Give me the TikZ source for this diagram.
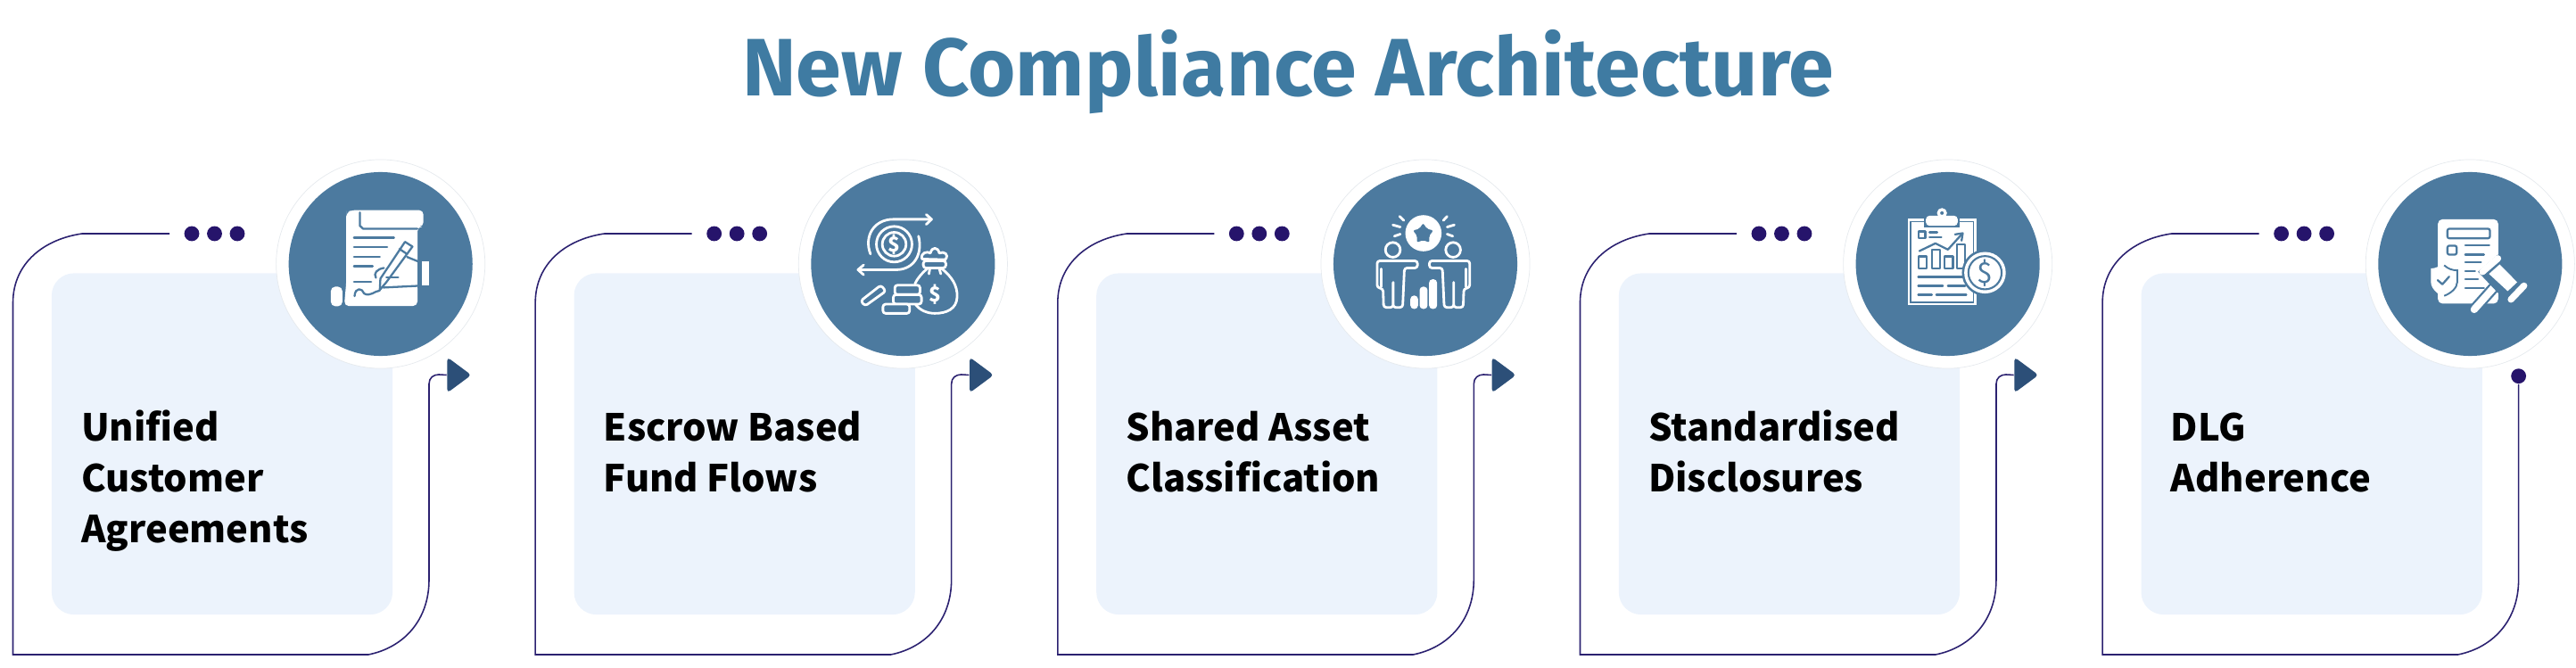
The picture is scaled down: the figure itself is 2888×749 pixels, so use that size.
\documentclass[tikz,border=0pt]{standalone}
\usepackage{fontspec}
\usepackage{tikz}
\usetikzlibrary{shapes,arrows,positioning}
\newfontfamily\titlefont[LetterSpace=0.3]{Fira Sans}
\newfontfamily\labelfont{Noto Sans CJK SC}
\definecolor{DiscBlue}{HTML}{4C7A9F}
\definecolor{PanelBlue}{HTML}{ECF3FC}
\definecolor{TrackNavy}{HTML}{2B2170}
\definecolor{DotNavy}{HTML}{26146B}
\definecolor{TipBlue}{HTML}{2C4F78}
\definecolor{TitleBlue}{HTML}{3F7BA2}
\definecolor{RingGray}{HTML}{E6EAEE}

\begin{document}
\begin{tikzpicture}[x=0.01cm, y=-0.01cm]
	\tikzstyle{Panel}	= [rectangle, fill=PanelBlue, rounded corners=0.25cm, minimum width=3.82cm, minimum height=3.825cm, inner sep=0pt]
	\tikzstyle{Ring}	= [circle, draw=RingGray, line width=0.2pt, fill=white, minimum size=2.34cm, inner sep=0pt]
	\tikzstyle{Disc}	= [circle, fill=DiscBlue, minimum size=2.06cm, inner sep=0pt]
	\tikzstyle{Dot}		= [circle, fill=DotNavy, minimum size=0.168cm, inner sep=0pt]
	\tikzstyle{Tip}		= [isosceles triangle, isosceles triangle stretches, fill=TipBlue, rounded corners=0.04cm, minimum width=0.40cm, minimum height=0.27cm, inner sep=0pt, anchor=west]
	\tikzstyle{Track}	= [TrackNavy, line width=0.45pt]
	\tikzstyle{Label}	= [anchor=base west, align=left, inner sep=0pt, font=\labelfont\bfseries\fontsize{11.85}{16.2}\selectfont]
	\tikzstyle{Sign}	= [inner sep=0pt, font=\labelfont\bfseries\fontsize{6.5}{6.5}\selectfont]
	\tikzstyle{IconW}	= [white, line width=0.8pt, line cap=round, line join=round]
	\tikzstyle{IconB}	= [DiscBlue, line width=0.65pt, line cap=round, line join=round]

	\useasboundingbox (0,0) rectangle (2888,749);

	\node (title) at (1444,108) [anchor=base, text=TitleBlue, inner sep=0pt, font=\titlefont\bfseries\fontsize{26}{30}\selectfont] {New Compliance Architecture};

	% panels
	\node (p1) at (249,497.75) [Panel] {};
	\node (p2) at (834.65,497.75) [Panel] {};
	\node (p3) at (1420.3,497.75) [Panel] {};
	\node (p4) at (2005.95,497.75) [Panel] {};
	\node (p5) at (2591.6,497.75) [Panel] {};

	% tracks
	\coordinate (s1) at (190,262);
	\coordinate (s2) at (775.65,262);
	\coordinate (s3) at (1361.3,262);
	\coordinate (s4) at (1946.95,262);
	\coordinate (s5) at (2532.6,262);
	\node (t1) at (500.7,420.5) [Tip] {};
	\node (t2) at (1086.35,420.5) [Tip] {};
	\node (t3) at (1672,420.5) [Tip] {};
	\node (t4) at (2257.65,420.5) [Tip] {};
	\node (t5) at (2823.6,421.7) [Dot] {};

	\draw (s1) -- ++(-98,0) .. controls +(-42,6) and +(0,-45) .. ++(-77.5,77.6) -- ++(0,394.4) -- ++(398.5,0) .. controls +(40,-8) and +(0,45) .. ++(68,-84) -- ++(0,-219.5) .. controls +(0,-7) and +(-6,0) .. ++(11,-10.5) -- (t1.west) [Track];
	\draw (s2) -- ++(-98,0) .. controls +(-42,6) and +(0,-45) .. ++(-77.5,77.6) -- ++(0,394.4) -- ++(398.5,0) .. controls +(40,-8) and +(0,45) .. ++(68,-84) -- ++(0,-219.5) .. controls +(0,-7) and +(-6,0) .. ++(11,-10.5) -- (t2.west) [Track];
	\draw (s3) -- ++(-98,0) .. controls +(-42,6) and +(0,-45) .. ++(-77.5,77.6) -- ++(0,394.4) -- ++(398.5,0) .. controls +(40,-8) and +(0,45) .. ++(68,-84) -- ++(0,-219.5) .. controls +(0,-7) and +(-6,0) .. ++(11,-10.5) -- (t3.west) [Track];
	\draw (s4) -- ++(-98,0) .. controls +(-42,6) and +(0,-45) .. ++(-77.5,77.6) -- ++(0,394.4) -- ++(398.5,0) .. controls +(40,-8) and +(0,45) .. ++(68,-84) -- ++(0,-219.5) .. controls +(0,-7) and +(-6,0) .. ++(11,-10.5) -- (t4.west) [Track];
	\draw (s5) -- ++(-98,0) .. controls +(-42,6) and +(0,-45) .. ++(-77.5,77.6) -- ++(0,394.4) -- ++(398.5,0) .. controls +(40,-8) and +(0,45) .. ++(68,-84) -- (t5) [Track];

	% dots
	\node (d11) at (215,262) [Dot] {};
	\node (d12) at (240.5,262) [Dot] {};
	\node (d13) at (266,262) [Dot] {};
	\node (d21) at (800.65,262) [Dot] {};
	\node (d22) at (826.15,262) [Dot] {};
	\node (d23) at (851.65,262) [Dot] {};
	\node (d31) at (1386.3,262) [Dot] {};
	\node (d32) at (1411.8,262) [Dot] {};
	\node (d33) at (1437.3,262) [Dot] {};
	\node (d41) at (1971.95,262) [Dot] {};
	\node (d42) at (1997.45,262) [Dot] {};
	\node (d43) at (2022.95,262) [Dot] {};
	\node (d51) at (2557.6,262) [Dot] {};
	\node (d52) at (2583.1,262) [Dot] {};
	\node (d53) at (2608.6,262) [Dot] {};

	% discs
	\node (r1) at (426.7,296) [Ring] {};
	\node (r2) at (1012.35,296) [Ring] {};
	\node (r3) at (1598,296) [Ring] {};
	\node (r4) at (2183.65,296) [Ring] {};
	\node (r5) at (2769.3,296) [Ring] {};
	\node (c1) at (426.7,296) [Disc] {};
	\node (c2) at (1012.35,296) [Disc] {};
	\node (c3) at (1598,296) [Disc] {};
	\node (c4) at (2183.65,296) [Disc] {};
	\node (c5) at (2769.3,296) [Disc] {};

	% labels
	\node (l1) at (90.5,608) [Label] {Unified\\Customer\\Agreements};
	\node (l2) at (676.15,551) [Label] {Escrow Based\\Fund Flows};
	\node (l3) at (1261.8,551) [Label] {Shared Asset\\Classification};
	\node (l4) at (1847.45,551) [Label] {Standardised\\Disclosures};
	\node (l5) at (2433.1,551) [Label] {DLG\\Adherence};

	% icon: scroll and pen
	\begin{scope}[shift={(300,170)}, x=0.00333cm, y=-0.00333cm]
		\fill [white, rounded corners=0.05cm] (265,215) -- (265,205) -- (285,197) -- (525,197) -- (525,253) -- (505,253) -- (505,520) -- (258,520) -- (265,440) -- cycle;
		\fill [white, rounded corners=0.05cm] (213,455) -- (252,455) -- (252,521) -- (213,521) -- cycle;
		\draw [IconB] (311,205) -- (311,250) -- (322,260) -- (505,260);
		\draw [IconB] (291,290) -- (426,290);
		\draw [IconB] (291,322) -- (403,322);
		\draw [IconB] (291,354) -- (378,354);
		\draw [IconB] (291,386) -- (354,386);
		\draw [IconB] (291,438) -- (349,438);
		\draw [IconB] (293,487) .. controls (295,455) and (320,460) .. (325,478) .. controls (345,490) and (360,470) .. (378,468);
		\draw [IconB] (463,304) -- (488,320) -- (400,440) -- (378,466) -- (380,428) -- cycle;
		\draw [IconB] (444,328) -- (470,345);
		\draw [IconB] (392,392) .. controls (370,395) and (355,410) .. (365,425);
		\draw [IconB] (400,424) -- (440,424);
		\draw [IconB] (470,355) -- (512,372);
		\draw [IconB] (390,458) -- (512,452);
		\fill [DiscBlue] (505,370) rectangle (520,460);
		\fill [white] (520,370) rectangle (545,452);
	\end{scope}

	% icon: coin flow and bag
	\begin{scope}[shift={(890,170)}, x=0.00333cm, y=-0.00333cm]
		\draw [IconW] (258,345) .. controls (235,285) and (270,228) .. (335,228) -- (462,228);
		\draw [IconW] (446,212) -- (464,228) -- (446,245);
		\draw [IconW] (420,285) .. controls (435,345) and (405,398) .. (345,398) -- (218,398);
		\draw [IconW] (235,382) -- (216,398) -- (235,415);
		\draw [IconW] (338,312) circle [radius=60];
		\draw [IconW] (338,312) circle [radius=40];
		\node (m21) at (338,312) [Sign, text=white] {\$};
		\draw [IconW] (432,362) .. controls (425,340) and (450,335) .. (460,342) .. controls (465,320) and (485,320) .. (490,342) .. controls (505,335) and (525,345) .. (510,364) -- cycle;
		\draw [IconW, rounded corners=0.03cm] (436,368) rectangle (512,392);
		\draw [IconW] (450,394) .. controls (430,410) and (415,430) .. (408,445);
		\draw [IconW] (498,394) .. controls (530,420) and (552,450) .. (550,490) .. controls (548,530) and (515,545) .. (475,545) .. controls (450,545) and (425,535) .. (410,515);
		\draw [IconW] (458,395) -- (455,412);
		\draw [IconW] (490,395) -- (495,412);
		\node (m22) at (475,480) [Sign, text=white] {\$};
		\draw [IconW, rounded corners=0.03cm] (225,503) -- (293,450) -- (310,470) -- (240,520) -- cycle;
		\draw [IconW, rounded corners=0.03cm] (340,450) rectangle (425,482);
		\draw [IconW, rounded corners=0.03cm] (335,482) rectangle (430,514);
		\draw [IconW, fill=DiscBlue, rounded corners=0.03cm] (300,514) rectangle (390,545);
	\end{scope}

	% icon: two people and star
	\begin{scope}[shift={(1480,170)}, x=0.00333cm, y=-0.00333cm]
		\fill [white] (348,275) circle [radius=61];
		\node (m31) at (347,277) [star, star points=5, star point ratio=1.7, fill=DiscBlue, rounded corners=0.02cm, minimum size=0.24cm, inner sep=0pt] {};
		\draw [IconW] (268,218) -- (282,232);
		\draw [IconW] (245,247) -- (270,254);
		\draw [IconW] (250,285) -- (270,278);
		\draw [IconW] (428,218) -- (415,232);
		\draw [IconW] (452,247) -- (428,254);
		\draw [IconW] (447,285) -- (428,278);
		\draw [IconW] (245,331) circle [radius=25];
		\draw [IconW] (448,331) circle [radius=25];
		\draw [IconW, rounded corners=0.03cm] (192,368) -- (328,368) -- (328,392) -- (284,392) -- (278,525) -- (246,525) -- (246,435) -- (246,525) -- (214,525) -- (212,462) -- (192,458) -- cycle;
		\draw [IconW] (206,395) -- (206,455);
		\draw [IconW, rounded corners=0.03cm] (504,368) -- (368,368) -- (368,392) -- (412,392) -- (418,525) -- (450,525) -- (450,435) -- (450,525) -- (482,525) -- (484,462) -- (504,458) -- cycle;
		\draw [IconW] (490,395) -- (490,455);
		\fill [white, rounded corners=0.04cm] (304,530) -- (304,485) -- (330,485) -- (330,530) -- cycle;
		\fill [white, rounded corners=0.04cm] (335,530) -- (335,455) -- (362,455) -- (362,530) -- cycle;
		\fill [white, rounded corners=0.04cm] (367,530) -- (367,430) -- (394,430) -- (394,530) -- cycle;
	\end{scope}

	% icon: clipboard, chart and coin
	\begin{scope}[shift={(2060,170)}, x=0.00333cm, y=-0.00333cm]
		\fill [white] (237,225) rectangle (468,518);
		\draw [DiscBlue, line width=0.5pt] (247,236) rectangle (458,508);
		\fill [DiscBlue] (290,222) rectangle (412,256);
		\fill [white, rounded corners=0.04cm] (298,250) -- (298,216) -- (405,216) -- (405,250) -- cycle;
		\fill [white] (352,207) circle [radius=17];
		\fill [DiscBlue] (352,207) circle [radius=6];
		\draw [IconB] (273,269) rectangle (296,291);
		\draw [IconB] (310,272) -- (336,272);
		\draw [IconB] (310,288) -- (350,288);
		\draw [IconB] (276,335) -- (330,309) -- (372,330) -- (420,277);
		\draw [IconB] (396,279) -- (422,275) -- (418,300);
		\draw [IconB] (273,353) rectangle (300,393);
		\draw [IconB] (318,331) rectangle (345,393);
		\draw [IconB] (360,353) rectangle (389,393);
		\draw [IconB] (402,313) rectangle (430,393);
		\draw [IconB] (272,422) -- (430,422);
		\draw [IconB] (272,452) -- (355,452);
		\draw [IconB] (372,452) -- (430,452);
		\draw [IconB] (272,482) -- (318,482);
		\draw [IconB] (333,482) -- (434,482);
		\fill [DiscBlue] (497,408) circle [radius=78];
		\fill [white] (497,408) circle [radius=70];
		\draw [DiscBlue, line width=0.6pt] (497,408) circle [radius=56];
		\node (m41) at (497,408) [Sign, text=DiscBlue, font=\labelfont\fontsize{9}{9}\selectfont] {\$};
	\end{scope}

	% icon: document, shield and gavel
	\begin{scope}[shift={(2640,170)}, x=0.00333cm, y=-0.00333cm]
		\fill [white, rounded corners=0.05cm] (280,512) -- (280,228) -- (483,228) -- (483,512) -- cycle;
		\draw [IconB, rounded corners=0.02cm] (312,260) rectangle (455,292);
		\draw [IconB, rounded corners=0.02cm] (312,317) rectangle (343,347);
		\draw [IconB] (372,316) -- (453,316);
		\draw [IconB] (372,347) -- (435,347);
		\draw [IconB] (372,373) -- (425,373);
		\draw [IconB] (372,402) -- (405,402);
		\draw [IconB] (372,430) -- (415,430);
		\draw [IconB] (372,460) -- (435,460);
		\draw [white, fill=white, line width=0.3pt] (301,375) .. controls (285,390) and (270,395) .. (258,395) -- (258,440) .. controls (258,460) and (280,480) .. (301,488) .. controls (322,480) and (345,460) .. (345,440) -- (345,395) .. controls (330,395) and (315,390) .. (301,375) -- cycle;
		\draw [DiscBlue, line width=0.55pt] (301,383) .. controls (315,396) and (330,400) .. (345,400) -- (345,440) .. controls (345,460) and (322,478) .. (301,486);
		\draw [IconB] (279,433) -- (295,447) -- (318,421);
		\draw [DiscBlue, line width=3.6pt, line cap=round] (402,532) -- (468,458);
		\draw [white, line width=2.3pt, line cap=round] (402,532) -- (468,458);
		\fill [DiscBlue] (415,405) -- (482,347) -- (560,435) -- (500,495) -- cycle;
		\fill [white] (452,412) -- (488,380) -- (547,440) -- (515,470) -- cycle;
		\draw [white, line width=2.1pt, line cap=round] (430,405) -- (482,360);
		\draw [white, line width=2.1pt, line cap=round] (526,498) -- (570,452);
	\end{scope}
\end{tikzpicture}
\end{document}
